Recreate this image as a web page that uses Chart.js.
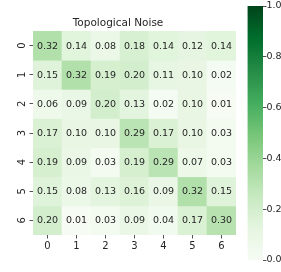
<!DOCTYPE html>
<html>
<head>
<meta charset="utf-8">
<script src="https://cdn.jsdelivr.net/npm/chart.js@4.4.1/dist/chart.umd.min.js"></script>
<style>
  html, body { margin: 0; padding: 0; background: #ffffff; }
  #wrap { position: relative; width: 281px; height: 272px; overflow: hidden; }
  #main { position: absolute; left: 0; top: 0; }
  #cbar { position: absolute; left: 238px; top: 0; }
</style>
</head>
<body>
<div id="wrap">
  <canvas id="main" width="281" height="272"></canvas>
  <canvas id="cbar" width="43" height="272"></canvas>
</div>
<script>
// ---- Data ----
const title = 'Topological Noise';
const colLabels = ['0', '1', '2', '3', '4', '5', '6'];
const rowLabels = ['0', '1', '2', '3', '4', '5', '6'];
const row0 = [0.32, 0.14, 0.08, 0.18, 0.14, 0.12, 0.14];
const row1 = [0.15, 0.32, 0.19, 0.20, 0.11, 0.10, 0.02];
const row2 = [0.06, 0.09, 0.20, 0.13, 0.02, 0.10, 0.01];
const row3 = [0.17, 0.10, 0.10, 0.29, 0.17, 0.10, 0.03];
const row4 = [0.19, 0.09, 0.03, 0.19, 0.29, 0.07, 0.03];
const row5 = [0.15, 0.08, 0.13, 0.16, 0.09, 0.32, 0.15];
const row6 = [0.20, 0.01, 0.03, 0.09, 0.04, 0.17, 0.30];
const rows = [row0, row1, row2, row3, row4, row5, row6];
const colorbarTicks = [0.0, 0.2, 0.4, 0.6, 0.8, 1.0];
const vmin = 0, vmax = 1;

// ---- Greens colormap (matplotlib) ----
const greens = [
  [247,252,245],[229,245,224],[199,233,192],[161,217,155],[116,196,118],
  [65,171,93],[35,139,69],[0,109,44],[0,68,27]
];
function cmap(v) {
  let t = (v - vmin) / (vmax - vmin);
  t = Math.max(0, Math.min(1, t));
  const pos = t * (greens.length - 1);
  const i = Math.min(greens.length - 2, Math.floor(pos));
  const f = pos - i;
  const a = greens[i], b = greens[i + 1];
  const c = a.map((x, k) => Math.round(x + (b[k] - x) * f));
  return `rgb(${c[0]},${c[1]},${c[2]})`;
}

const FONT = 'DejaVu Sans';
const TXT = '#262626';

const datasets = rows.map((vals, r) => ({
  label: 'row ' + rowLabels[r],
  data: vals.map(() => [r, r + 1]),
  values: vals,
  backgroundColor: vals.map(cmap),
  borderWidth: 0,
  barPercentage: 1.0,
  categoryPercentage: 1.0,
  grouped: false
}));

const annotate = {
  id: 'annotate',
  afterDatasetsDraw(chart) {
    const ctx = chart.ctx;
    ctx.save();
    ctx.font = `9.5px "${FONT}"`;
    ctx.fillStyle = TXT;
    ctx.textAlign = 'center';
    ctx.textBaseline = 'middle';
    chart.data.datasets.forEach((ds, di) => {
      const meta = chart.getDatasetMeta(di);
      meta.data.forEach((el, i) => {
        const cy = (el.y + el.base) / 2;
        ctx.fillText(ds.values[i].toFixed(2), el.x, cy + 0.5);
      });
    });
    // rotated y tick labels
    const ys = chart.scales.y;
    ctx.font = `10px "${FONT}"`;
    rowLabels.forEach((lab, i) => {
      const py = ys.getPixelForValue(i + 0.5);
      ctx.save();
      ctx.translate(ys.right - 10.5, py);
      ctx.rotate(-Math.PI / 2);
      ctx.textAlign = 'center';
      ctx.textBaseline = 'middle';
      ctx.fillText(lab, 0, 0);
      ctx.restore();
    });
    ctx.restore();
  }
};

new Chart(document.getElementById('main'), {
  type: 'bar',
  data: { labels: colLabels, datasets },
  options: {
    responsive: false,
    animation: false,
    layout: { padding: { left: 0, top: 0, right: 45, bottom: 16 } },
    plugins: {
      legend: { display: false },
      tooltip: { enabled: false },
      title: {
        display: true,
        text: title,
        color: TXT,
        font: { family: FONT, size: 10.5, weight: 'normal' },
        padding: { top: 16.5, bottom: 2 }
      }
    },
    scales: {
      x: {
        type: 'category',
        offset: true,
        grid: { display: true, drawOnChartArea: false, drawTicks: true, tickLength: 3.5, offset: false, color: TXT, lineWidth: 0.8 },
        border: { display: false },
        ticks: { color: TXT, font: { family: FONT, size: 10 }, padding: 2, maxRotation: 0 },
        afterFit(s) { s.height = 21; }
      },
      y: {
        type: 'linear',
        min: 0, max: 7,
        reverse: true,
        afterBuildTicks(s) { s.ticks = rowLabels.map((_, i) => ({ value: i + 0.5 })); },
        grid: { display: true, drawOnChartArea: false, drawTicks: true, tickLength: 3.5, color: TXT, lineWidth: 0.8 },
        border: { display: false },
        ticks: { callback: () => '', padding: 0 },
        afterFit(s) { s.width = 33; }
      }
    }
  },
  plugins: [annotate]
});

// ---- Colorbar ----
new Chart(document.getElementById('cbar'), {
  type: 'bar',
  data: {
    labels: ['cb'],
    datasets: [{
      data: [[vmin, vmax]],
      borderWidth: 0,
      barPercentage: 1.0,
      categoryPercentage: 1.0,
      backgroundColor(context) {
        const ca = context.chart.chartArea;
        if (!ca) return cmap(0.5);
        const g = context.chart.ctx.createLinearGradient(0, ca.bottom, 0, ca.top);
        for (let k = 0; k <= 40; k++) g.addColorStop(k / 40, cmap(vmin + (vmax - vmin) * k / 40));
        return g;
      }
    }]
  },
  options: {
    responsive: false,
    animation: false,
    layout: { padding: { left: 9.5, top: 6, right: 0, bottom: 12 } },
    plugins: { legend: { display: false }, tooltip: { enabled: false }, title: { display: false } },
    scales: {
      x: { display: false, offset: true },
      y: {
        position: 'right',
        min: vmin, max: vmax,
        afterBuildTicks(s) { s.ticks = colorbarTicks.map(v => ({ value: v })); },
        grid: { display: true, drawOnChartArea: false, drawTicks: true, tickLength: 3.5, color: TXT, lineWidth: 0.8 },
        border: { display: false },
        ticks: { color: TXT, font: { family: FONT, size: 9.5 }, padding: 0, callback: v => v.toFixed(1) },
        afterFit(s) { s.width = 18; }
      }
    }
  }
});
</script>
</body>
</html>
